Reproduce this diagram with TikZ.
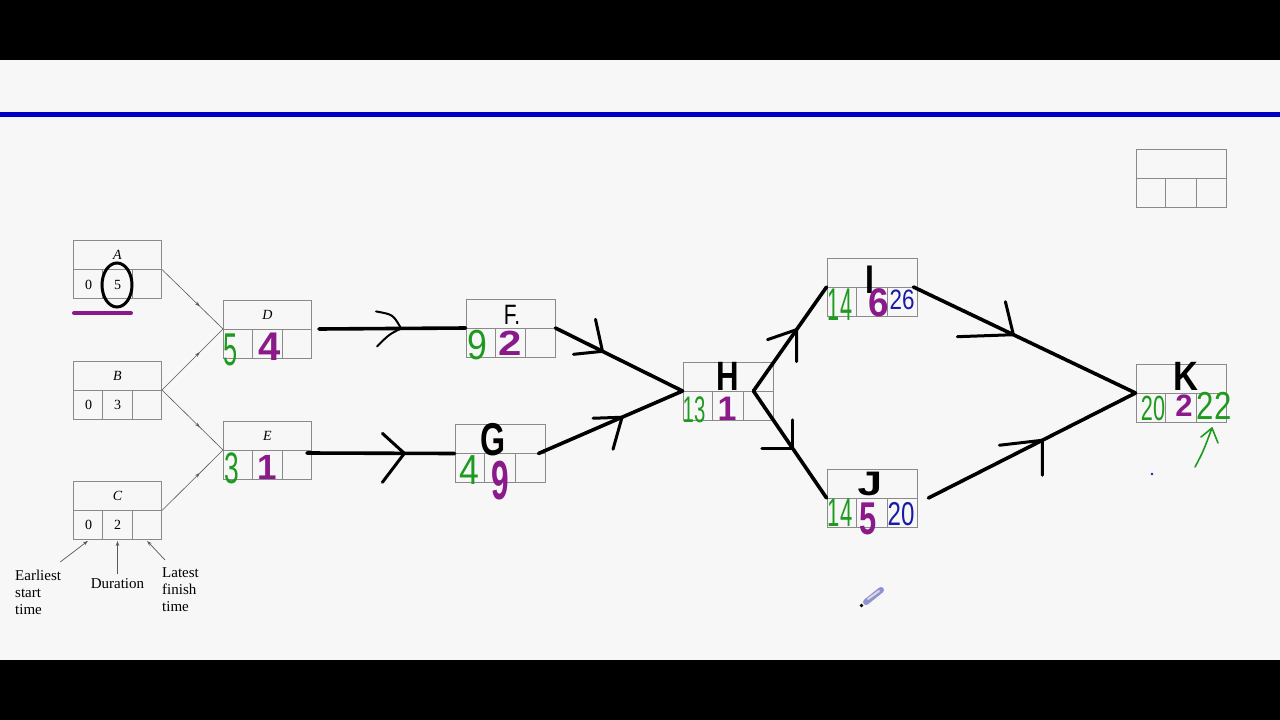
\documentclass[tikz,border=0pt]{standalone}
\usepackage{fontspec}
\setmainfont{Liberation Serif}
\newfontfamily\hand{Liberation Sans}
\usetikzlibrary{calc,arrows.meta,decorations.markings}
\definecolor{bg}{HTML}{F7F7F7}
\definecolor{gbox}{HTML}{8A8A8A}
\definecolor{hgreen}{HTML}{1E9A1E}
\definecolor{hpurple}{HTML}{8A1A8A}
\definecolor{hblue}{HTML}{1A1AA8}
\definecolor{lineblue}{HTML}{0000C4}
\newcommand\hwf[1]{\fontsize{#1}{#1}\selectfont}
\newcommand\boxgrid[1]{%
  \draw[gridln] (#1.west) -- (#1.east)
    ($(#1.south west)!1/3!(#1.south east)$) -- ++(0,29pt)
    ($(#1.south west)!2/3!(#1.south east)$) -- ++(0,29pt);}
\tikzset{
  abox/.style={draw=gbox, line width=0.9pt, minimum width=#1, minimum height=58pt, inner sep=0pt},
  abox/.default=88pt,
  gridln/.style={draw=gbox, line width=0.9pt},
  thinconn/.style={draw=gray!70!black, line width=0.6pt, postaction={decorate},
    decoration={markings, mark=at position 0.62 with {\arrow{Stealth[length=5pt,width=3.5pt]}}}},
  thickconn/.style={line width=3.6pt, line cap=round},
  chev/.style={line width=3pt, line cap=round, line join=round},
  seriflab/.style={font=\fontsize{14}{16}\selectfont\itshape, inner sep=0pt},
  serifnum/.style={font=\fontsize{14}{16}\selectfont, inner sep=0pt},
  hw/.style={inner sep=0pt, font=\hand\hwf{#1}},
  hwb/.style={inner sep=0pt, font=\hand\bfseries\hwf{#1}},
  lbl/.style={font=\fontsize{15}{17}\selectfont, inner sep=0pt, align=left},
  lblarrow/.style={draw=gray!70!black, line width=0.7pt, -{Stealth[length=5pt,width=3.5pt]}},
}
\begin{document}
\begin{tikzpicture}[x=1pt,y=-1pt]
\useasboundingbox (0,0) rectangle (1280,720);
\fill[bg] (0,0) rectangle (1280,720);
\fill[black] (0,0) rectangle (1280,60);
\fill[black] (0,660) rectangle (1280,720);
\draw[lineblue, line width=5pt] (0,114.5) -- (1280,114.5);

% activity boxes
\node[abox] (A) at (117.5,269.5) {};
\node[abox] (B) at (117.5,390) {};
\node[abox] (C) at (117.5,510.5) {};
\node[abox] (D) at (267.5,329) {};
\node[abox] (E) at (267.5,450) {};
\node[abox=89pt] (F) at (510.5,328) {};
\node[abox=90pt] (G) at (500,453.5) {};
\node[abox=90pt] (H) at (728,391) {};
\node[abox=90pt] (I) at (872,287) {};
\node[abox=90pt] (J) at (872,498) {};
\node[abox=90pt] (K) at (1181,393) {};
\node[abox=90pt] (L) at (1181,178.5) {};
\foreach \n in {A,B,C,D,E,F,G,H,I,J,K,L} {\boxgrid{\n}}

% printed texts
\node[seriflab] (At) at (117.5,255) {A};
\node[serifnum] (A1) at (88.5,284.5) {0};
\node[serifnum] (A2) at (117.5,284.5) {5};
\node[seriflab] (Bt) at (117.5,376) {B};
\node[serifnum] (B1) at (88.5,405) {0};
\node[serifnum] (B2) at (117.5,405) {3};
\node[seriflab] (Ct) at (117.5,496) {C};
\node[serifnum] (C1) at (88.5,525) {0};
\node[serifnum] (C2) at (117.5,525) {2};
\node[seriflab] (Dt) at (267.5,315) {D};
\node[seriflab] (Et) at (267.5,436) {E};

% printed connectors
\draw[thinconn] (A.east) -- (D.west);
\draw[thinconn] (B.east) -- (D.west);
\draw[thinconn] (B.east) -- (E.west);
\draw[thinconn] (C.east) -- (E.west);

% legend
\node[lbl, anchor=north west] (lE) at (15,570) {Earliest\\start\\time};
\node[lbl] (lD) at (117.5,584) {Duration};
\node[lbl, anchor=north west] (lL) at (162,567) {Latest\\finish\\time};
\draw[lblarrow] ([shift={(-1pt,8pt)}]lE.north east) -- ($(C.south west)!1/6!(C.south east)+(0,1)$);
\draw[lblarrow] ([yshift=5pt]lD.north) -- ($(C.south)+(0,1)$);
\draw[lblarrow] ([shift={(3pt,7pt)}]lL.north west) -- ($(C.south west)!5/6!(C.south east)+(0,1)$);

% hand-drawn marks on A
\draw[black, line width=3pt] (117,285) ellipse [x radius=15, y radius=22];
\draw[hpurple, line width=4pt, line cap=round] (74,313) -- (131,313);

% hand-drawn connectors
\draw[thickconn] ([xshift=7pt]D.east) -- coordinate[pos=0.56] (mDF) (F.west);
\draw[thickconn] ([shift={(-5pt,-3pt)}]E.east) -- coordinate[pos=0.66] (mEG) (G.west);
\draw[thickconn] (F.east) -- coordinate[pos=0.37] (mFH) (H.west);
\draw[thickconn] ([xshift=-7pt]G.east) -- coordinate[pos=0.58] (mGH) (H.west);
\draw[thickconn] ([xshift=-20pt]H.east) -- coordinate[pos=0.59] (mHI) (I.west);
\draw[thickconn] ([xshift=-20pt]H.east) -- coordinate[pos=0.54] (mHJ) (J.west);
\draw[thickconn] ([xshift=-4pt]I.east) -- coordinate[pos=0.45] (mIK) (K.west);
\draw[thickconn] ([xshift=11pt]J.east) -- coordinate[pos=0.55] (mJK) (K.west);

\draw[chev, line width=2pt] ($(mDF)+(-25,-17)$) .. controls ($(mDF)+(-8,-14)$) .. (mDF) .. controls ($(mDF)+(-12,6)$) .. ($(mDF)+(-24,18)$);
\draw[chev] ($(mEG)+(-22,-20)$) -- (mEG) -- ($(mEG)+(-22,29)$);
\draw[chev] ($(mFH)+(-29,3)$) -- (mFH) -- ($(mFH)+(-7,-32)$);
\draw[chev] ($(mGH)+(-29,1)$) -- (mGH) -- ($(mGH)+(-9,32)$);
\draw[chev] ($(mHI)+(-29,10)$) -- (mHI) -- ($(mHI)+(0,32)$);
\draw[chev] ($(mHJ)+(-31,0)$) -- (mHJ) -- ($(mHJ)+(0,-29)$);
\draw[chev] ($(mIK)+(-56,2)$) -- (mIK) -- ($(mIK)+(-8,-33)$);
\draw[chev] ($(mJK)+(-43,5)$) -- (mJK) -- ($(mJK)+(0,35)$);

% handwritten values
\node[hw=46, hgreen, xscale=0.55] (D1) at (231,350) {5};
\node[hwb=40, hpurple] (D2) at (270,347) {4};
\node[hw=44, hgreen, xscale=0.6] (E1) at (232,468) {3};
\node[hwb=35, hpurple] (E2) at (267,467) {1};
\node[hw=28, black, xscale=0.75] (Ft) at (512,315) {F.};
\node[hw=42, hgreen, xscale=0.85] (F1) at (477,345) {9};
\node[hwb=35, hpurple, xscale=1.2] (F2) at (510,343) {2};
\node[hwb=46, black, xscale=0.7] (Gt) at (493,440) {G};
\node[hw=42, hgreen, xscale=0.85] (G1) at (469,470) {4};
\node[hwb=44, hpurple, xscale=0.72, yscale=1.25] (G2) at (500,481) {9};
\node[hwb=41, black, xscale=0.76] (Ht) at (728,376) {H};
\node[hw=37, hgreen, xscale=0.55] (H1) at (694,410) {13};
\node[hwb=34, hpurple] (H2) at (727,409) {1};
\node[hwb=40, black, xscale=0.8] (It) at (870,280) {I};
\node[hw=46, hgreen, xscale=0.47] (I1) at (840,305) {14};
\node[hwb=40, hpurple, xscale=0.92] (I2) at (879,303) {6};
\node[hw=28, hblue, xscale=0.8] (I3) at (902,300) {26};
\node[hwb=34, black, xscale=1.3] (Jt) at (870,484) {J};
\node[hw=40, hgreen, xscale=0.55] (J1) at (840,513) {14};
\node[hwb=46, hpurple, xscale=0.67] (J2) at (868,519) {5};
\node[hw=33, hblue, xscale=0.73] (J3) at (901,514) {20};
\node[hwb=41, black, xscale=0.84] (Kt) at (1186,376) {K};
\node[hw=35, hgreen, xscale=0.62] (K1) at (1153,408) {20};
\node[hwb=31, hpurple] (K2) at (1184,406) {2};
\node[hw=39, hgreen, xscale=0.8] (K3) at (1214,406) {22};

% green pointer under K
\coordinate (gtip) at (1212,428);
\draw[hgreen, line width=1.6pt, line cap=round, line join=round]
  (1195,467) .. controls (1203,452) .. (gtip);
\draw[hgreen, line width=1.6pt, line cap=round, line join=round]
  (1201,437) -- (gtip) -- (1218,443);
\fill[hblue] (1152,474) circle (1.3);

% pen cursor
\draw[line width=6pt, line cap=round, color=gray!55!blue!60] (866,602) -- (881,590);
\draw[line width=2pt, line cap=round, color=white!70!gray] (868,599) -- (879,591);
\fill[black] (861.5,605.5) circle (1.8);
\end{tikzpicture}
\end{document}
